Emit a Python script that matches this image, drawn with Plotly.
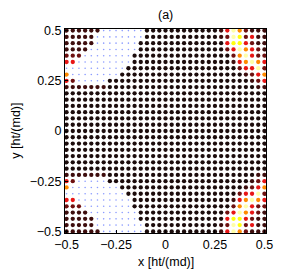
import plotly.graph_objects as go

# grid coordinates (33 x 33), rows listed from top (y=0.5) to bottom (y=-0.5)
X_VALUES = [-0.5 + k / 32 for k in range(33)]
Y_VALUES = [0.5 - k / 32 for k in range(33)]

# level per grid point: '.' = no value (small blue dot), 0..7 = colour level
ROWS = [
    "111111.......00000000000013642111",
    "11111........00000000000012652311",
    "11111.......000000000000003553211",
    "1111........000000000000002364321",
    "222........0000000000000000246322",
    "33.........0000000000000000134643",
    "..........00000000000000000023362",
    "4........000000000000000000001234",
    "32.....00000000000000000000000123",
    "111111100000000000000000000000011",
    "000000000000000000000000000000000",
    "000000000000000000000000000000000",
    "000000000000000000000000000000000",
    "000000000000000000000000000000000",
    "000000000000000000000000000000000",
    "000000000000000000000000000000000",
    "000000000000000000000000000000000",
    "000000000000000000000000000000000",
    "000000000000000000000000000000000",
    "000000000000000000000000000000000",
    "000000000000000000000000000000000",
    "000000000000000000000000000000000",
    "000000000000000000000000000000000",
    "111111100000000000000000000000011",
    "32.....00000000000000000000000123",
    "4........000000000000000000001234",
    "..........00000000000000000023362",
    "33.........0000000000000000134643",
    "222........0000000000000000246322",
    "1111........000000000000002364321",
    "11111.......000000000000003553211",
    "11111........00000000000012652311",
    "111111.......00000000000013642111",
]

LEVEL_COLORS = ["#1c0c0c", "#3e0d0d", "#6e1010", "#e81515",
                "#ff8a00", "#ffff10", "#ffffa8", "#ffffff"]

TICK_VALS = [-0.5, -0.25, 0, 0.25, 0.5]
TICK_TEXT = ["\u22120.5", "\u22120.25", "0", "0.25", "0.5"]

bx, by, cx, cy, cv = [], [], [], [], []
for j, row in enumerate(ROWS):
    assert len(row) == 33, (j, len(row))
    for i, ch in enumerate(row):
        if ch == ".":
            bx.append(X_VALUES[i]); by.append(Y_VALUES[j])
        else:
            cx.append(X_VALUES[i]); cy.append(Y_VALUES[j]); cv.append(int(ch))

n = len(LEVEL_COLORS)
cscale = []
for k, c in enumerate(LEVEL_COLORS):
    cscale.append([k / n, c]); cscale.append([(k + 1) / n, c])

fig = go.Figure()
fig.add_trace(go.Scatter(x=bx, y=by, mode="markers",
                         marker=dict(size=1.6, color="#8c9cff"), hoverinfo="skip"))
fig.add_trace(go.Scatter(x=cx, y=cy, mode="markers",
                         marker=dict(size=4.3, color=cv, colorscale=cscale,
                                     cmin=-0.5, cmax=n - 0.5, line=dict(width=0)),
                         hoverinfo="skip"))

font = dict(family="Liberation Sans, Arial, sans-serif", size=12.5, color="black")
axis_common = dict(range=[-0.508, 0.508], showgrid=False, zeroline=False,
                   showline=True, mirror=True, linecolor="black", linewidth=1,
                   ticks="inside", ticklen=3, tickcolor="black",
                   tickvals=TICK_VALS, ticktext=TICK_TEXT, tickfont=font)
# page body has an 8px default margin, so the figure is laid out from (8, 8)
fig.update_layout(
    width=277, height=264,
    margin=dict(l=57, r=14, t=21, b=39),
    plot_bgcolor="white", paper_bgcolor="white",
    showlegend=False,
    xaxis=axis_common,
    yaxis=axis_common,
    annotations=[
        dict(text="(a)", x=0.5, y=1.07, xref="paper", yref="paper",
             showarrow=False, font=font, yanchor="middle"),
        dict(text="x [ht/(md)]", x=0.5, y=-0.14, xref="paper", yref="paper",
             showarrow=False, font=font, yanchor="middle"),
        dict(text="y [ht/(md)]", x=-0.245, y=0.5, xref="paper", yref="paper",
             showarrow=False, font=font, textangle=-90, xanchor="center"),
    ],
)
fig.write_html("out.html")
